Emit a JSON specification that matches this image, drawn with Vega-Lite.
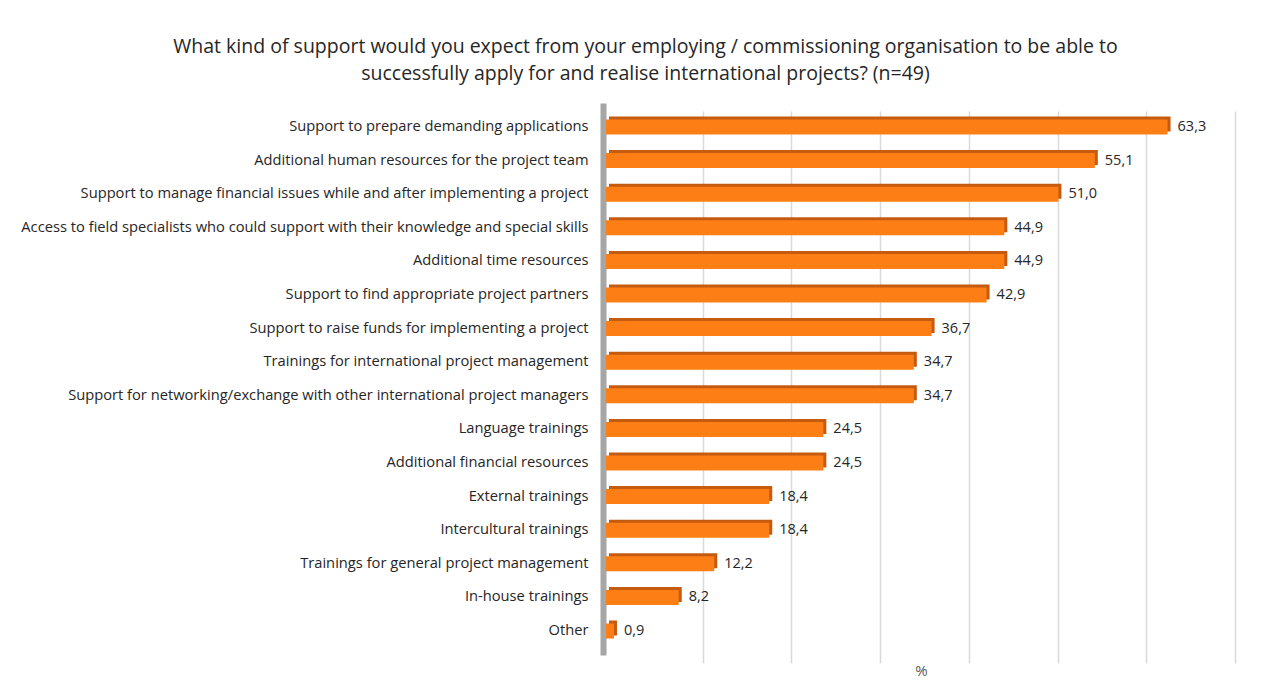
{
  "$schema": "https://vega.github.io/schema/vega-lite/v6.json",
  "autosize": {"type": "none"},
  "padding": {"left": 606, "top": 103, "right": 35, "bottom": 43},
  "width": 621,
  "height": 552,
  "background": "white",
  "config": {
    "locale": {"number": {"decimal": ",", "thousands": ".", "grouping": [3], "currency": ["", " €"]}},
    "view": {"stroke": null},
    "font": "Open Sans"
  },
  "title": {
    "text": ["What kind of support would you expect from your employing / commissioning organisation to be able to", "successfully apply for and realise international projects? (n=49)"],
    "fontSize": 19.5,
    "fontWeight": "normal",
    "color": "#262626",
    "anchor": "middle",
    "dx": -271,
    "offset": 19,
    "lineHeight": 27
  },
  "data": {
    "values": [
      {"item": "Support to prepare demanding applications", "pct": 63.3},
      {"item": "Additional human resources for the project team", "pct": 55.1},
      {"item": "Support to manage financial issues while and after implementing a project", "pct": 51.0},
      {"item": "Access to field specialists who could support with their knowledge and special skills", "pct": 44.9},
      {"item": "Additional time resources", "pct": 44.9},
      {"item": "Support to find appropriate project partners", "pct": 42.9},
      {"item": "Support to raise funds for implementing a project", "pct": 36.7},
      {"item": "Trainings for international project management", "pct": 34.7},
      {"item": "Support for networking/exchange with other international project managers", "pct": 34.7},
      {"item": "Language trainings", "pct": 24.5},
      {"item": "Additional financial resources", "pct": 24.5},
      {"item": "External trainings", "pct": 18.4},
      {"item": "Intercultural trainings", "pct": 18.4},
      {"item": "Trainings for general project management", "pct": 12.2},
      {"item": "In-house trainings", "pct": 8.2},
      {"item": "Other", "pct": 0.9}
    ]
  },
  "encoding": {
    "y": {
      "field": "item", "type": "nominal", "sort": null, "title": null,
      "scale": {"paddingInner": 0, "paddingOuter": 0.214},
      "axis": {
        "ticks": false, "domain": true, "domainColor": "#A6A6A6", "domainWidth": 6,
        "offset": 3, "labelPadding": 15, "labelFontSize": 14.7, "labelColor": "#262626",
        "labelLimit": 700, "grid": false
      }
    },
    "x": {
      "field": "pct", "type": "quantitative", "title": "%",
      "scale": {"domain": [0, 70], "nice": false},
      "axis": {
        "values": [10, 20, 30, 40, 50, 60, 70], "labels": false, "ticks": false, "domain": false,
        "grid": true, "gridColor": "#D9D9D9", "gridWidth": 1.5, "translate": 8.5,
        "titleFontSize": 15, "titleColor": "#595959", "titleFontWeight": "normal", "titlePadding": 0, "titleX": 307
      }
    }
  },
  "layer": [
    {"mark": {"type": "bar", "size": 15, "color": "#C55A11", "xOffset": 3, "yOffset": -3}},
    {"mark": {"type": "bar", "size": 15, "color": "#FD7E14"}},
    {
      "mark": {"type": "text", "align": "left", "baseline": "middle", "dx": 10, "fontSize": 14.5, "color": "#262626"},
      "encoding": {"text": {"field": "pct", "type": "quantitative", "format": ".1f"}}
    }
  ]
}
